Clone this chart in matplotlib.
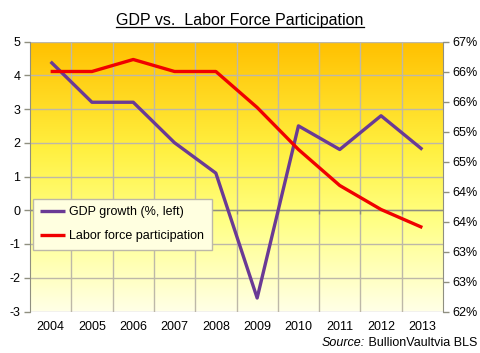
import math
import numpy as np
import matplotlib
matplotlib.use("Agg")
import matplotlib.pyplot as plt
from matplotlib.colors import LinearSegmentedColormap
from matplotlib.ticker import FuncFormatter, FixedLocator

years = ["2004", "2005", "2006", "2007", "2008", "2009", "2010", "2011", "2012", "2013"]
gdp_growth = [4.4, 3.2, 3.2, 2.0, 1.1, -2.6, 2.5, 1.8, 2.8, 1.8]
labor_part = [66.0, 66.0, 66.2, 66.0, 66.0, 65.4, 64.7, 64.1, 63.7, 63.4]
left_ticks = [-3, -2, -1, 0, 1, 2, 3, 4, 5]
right_ticks = [62.0, 62.5, 63.0, 63.5, 64.0, 64.5, 65.0, 65.5, 66.0, 66.5]

plt.rcParams['font.family'] = ['Liberation Sans', 'DejaVu Sans']

fig = plt.figure(figsize=(4.8, 3.53), dpi=100)
fig.patch.set_facecolor('white')
ax = fig.add_axes([30/480, (353-311.5)/353, (443-30)/480, 270/353])
ax2 = ax.twinx()

x = np.arange(len(years))
ax.set_xlim(-0.5, len(years) - 0.5)
ax.set_ylim(-3, 5)
ax2.set_ylim(62.0, 66.5)

# gradient background
cmap = LinearSegmentedColormap.from_list(
    "bg", [(0.0, "#FFFFE6"), (0.35, "#FFFF80"), (0.6, "#FFF040"), (1.0, "#FFC000")])
grad = np.linspace(0, 1, 256).reshape(-1, 1)
ax.imshow(grad, aspect='auto', cmap=cmap, origin='lower',
          extent=[0, 1, 0, 1], transform=ax.transAxes, zorder=0)

grid_c = "#BDB8A8"
for t in left_ticks:
    ax.axhline(t, color=grid_c, lw=1.0, zorder=1)
for b in np.arange(0.5, len(years) - 1, 1.0):
    ax.axvline(b, color=grid_c, lw=1.0, zorder=1)
ax.axhline(0, color="#8F8F80", lw=1.0, zorder=1.5)
ax.vlines(np.arange(0.5, len(years) - 1, 1.0), -0.12, 0, color="#8F8F80", lw=1.0, zorder=1.5)

l1, = ax.plot(x, gdp_growth, color="#6A3A95", lw=2.4, zorder=3, solid_capstyle='butt')
l2, = ax2.plot(x, labor_part, color="#F00000", lw=2.4, zorder=3, solid_capstyle='butt')

ax.set_yticks(left_ticks)
ax.set_yticklabels([str(t) for t in left_ticks])
ax2.yaxis.set_major_locator(FixedLocator(right_ticks))
ax2.yaxis.set_major_formatter(FuncFormatter(lambda v, p: f"{int(math.floor(v + 0.5))}%"))

ax.set_xticks(x)
ax.set_xticklabels(years)
ax.tick_params(axis='x', length=0, pad=7, labelsize=9)
ax.tick_params(axis='y', length=4, width=1, color="#8F8F80", pad=3, labelsize=9, direction='out')
ax2.tick_params(axis='y', length=4, width=1, color="#8F8F80", pad=3, labelsize=9, direction='out')

for a in (ax, ax2):
    for s in a.spines.values():
        s.set_visible(False)
ax.spines['left'].set_visible(True)
ax.spines['left'].set_color("#8F8F80")
ax2.spines['right'].set_visible(True)
ax2.spines['right'].set_color("#8F8F80")

leg = ax2.legend([l1, l2], ["GDP growth (%, left)", "Labor force participation"],
                 loc='upper left', bbox_to_anchor=(0.007, 0.417), borderaxespad=0,
                 fontsize=9, handlelength=2.0, labelspacing=0.95, handletextpad=0.3,
                 borderpad=0.6, fancybox=False, framealpha=1.0)
leg.get_frame().set_facecolor("#FFFFE0")
leg.get_frame().set_edgecolor("#BDB8A8")
leg.set_zorder(5)

title = fig.text(0.5, 1 - 20/353, "GDP vs.  Labor Force Participation", ha='center', va='center',
                 fontsize=11.5)
fig.canvas.draw()
bb = title.get_window_extent(renderer=fig.canvas.get_renderer())
inv = fig.transFigure.inverted()
(x0, y0), (x1, y1) = inv.transform([(bb.x0, bb.y0), (bb.x1, bb.y1)])
fig.add_artist(plt.Line2D([x0, x1], [y0 + 0.001, y0 + 0.001], color='black', lw=0.9,
                          transform=fig.transFigure))

fig.text(1 - 3/480, 1 - 343/353, " BullionVaultvia BLS", ha='right', va='center', fontsize=9)
fig.canvas.draw()
t2 = fig.texts[-1]
bb2 = t2.get_window_extent(renderer=fig.canvas.get_renderer())
xs = inv.transform((bb2.x0, 0))[0]
fig.text(xs, 1 - 343/353, "Source:", ha='right', va='center', fontsize=9, style='italic')

fig.savefig("out.png", dpi=100)
